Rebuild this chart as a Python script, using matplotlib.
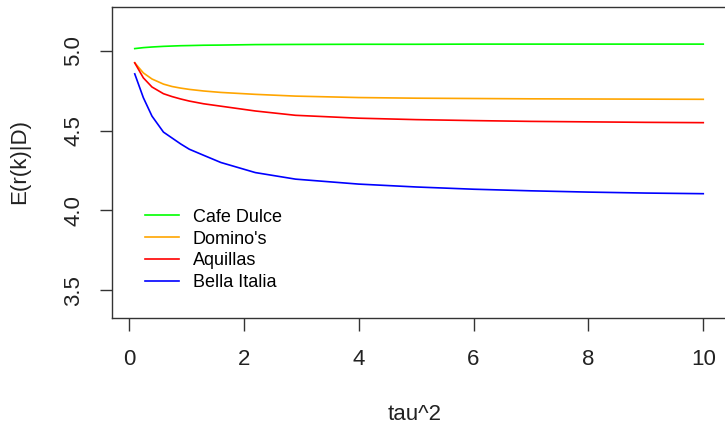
import matplotlib
matplotlib.use("Agg")
import matplotlib.pyplot as plt

# ==========================================
# Data
# ==========================================

tau2 = [0.1, 0.25, 0.4, 0.6, 0.75, 0.9, 1.05, 1.3, 1.6, 2.2,
        2.9, 4.0, 5.0, 6.0, 7.0, 8.0, 9.0, 10.0]

cafe_dulce = [5.012, 5.018, 5.022, 5.026, 5.028, 5.030, 5.031, 5.033, 5.034,
              5.037, 5.038, 5.039, 5.039, 5.040, 5.040, 5.040, 5.040, 5.040]

dominos = [4.923, 4.860, 4.822, 4.790, 4.775, 4.765, 4.757, 4.747, 4.738,
           4.726, 4.715, 4.706, 4.702, 4.700, 4.698, 4.697, 4.696, 4.695]

aquillas = [4.923, 4.829, 4.772, 4.730, 4.712, 4.697, 4.684, 4.667, 4.652,
            4.622, 4.595, 4.577, 4.568, 4.562, 4.557, 4.554, 4.551, 4.549]

bella_italia = [4.854, 4.705, 4.590, 4.490, 4.453, 4.416, 4.383, 4.345, 4.300,
                4.237, 4.196, 4.165, 4.147, 4.133, 4.123, 4.115, 4.109, 4.105]

series_names = ["Cafe Dulce", "Domino's", "Aquillas", "Bella Italia"]
series_colors = ["#00FF00", "#FFA500", "#FF0000", "#0000FF"]

y_ticks = [3.5, 4.0, 4.5, 5.0]
x_ticks = [0, 2, 4, 6, 8, 10]

# ==========================================
# Figure
# ==========================================

plt.rcParams['font.family'] = ['Liberation Sans', 'DejaVu Sans']

fig = plt.figure(figsize=(7.25, 4.24), dpi=100)
ax = fig.add_axes([112 / 725, 106 / 424, 614 / 725, 311 / 424])

for vals, name, col in zip([cafe_dulce, dominos, aquillas, bella_italia],
                           series_names, series_colors):
    ax.plot(tau2, vals, color=col, linewidth=1.2, label=name)

# R style 4% axis padding
xr = tau2[-1] - tau2[0]
ax.set_xlim(tau2[0] - 0.04 * xr, tau2[-1] + 0.04 * xr)
ax.set_ylim(3.4 - 0.04 * 1.8, 5.2 + 0.04 * 1.8)

ax.set_xticks(x_ticks)
ax.set_xticklabels([str(t) for t in x_ticks])
ax.set_yticks(y_ticks)
ax.set_yticklabels(["%.1f" % t for t in y_ticks], rotation=90, va='center')

ax.tick_params(axis='both', length=9, width=1, color='#333333',
               labelsize=16, labelcolor='#222222')
ax.tick_params(axis='x', pad=13)
ax.tick_params(axis='y', pad=11)

for sp in ax.spines.values():
    sp.set_linewidth(1)
    sp.set_color('#333333')

ax.set_xlabel("tau^2", fontsize=16, color='#222222', va='center')
ax.set_ylabel("E(r(k)|D)", fontsize=16, color='#222222', va='center')
ax.xaxis.set_label_coords((415 - 112) / 614, (318 - 414) / 311)
ax.yaxis.set_label_coords((20 - 112) / 614, (318 - 161) / 311)

ax.legend(loc='center left',
          bbox_to_anchor=((145 - 112) / 614, (318 - 250) / 311),
          frameon=False, fontsize=13, handlelength=1.9,
          handletextpad=0.75, labelspacing=0.27,
          borderpad=0, borderaxespad=0)

fig.savefig("out.png", dpi=100)
